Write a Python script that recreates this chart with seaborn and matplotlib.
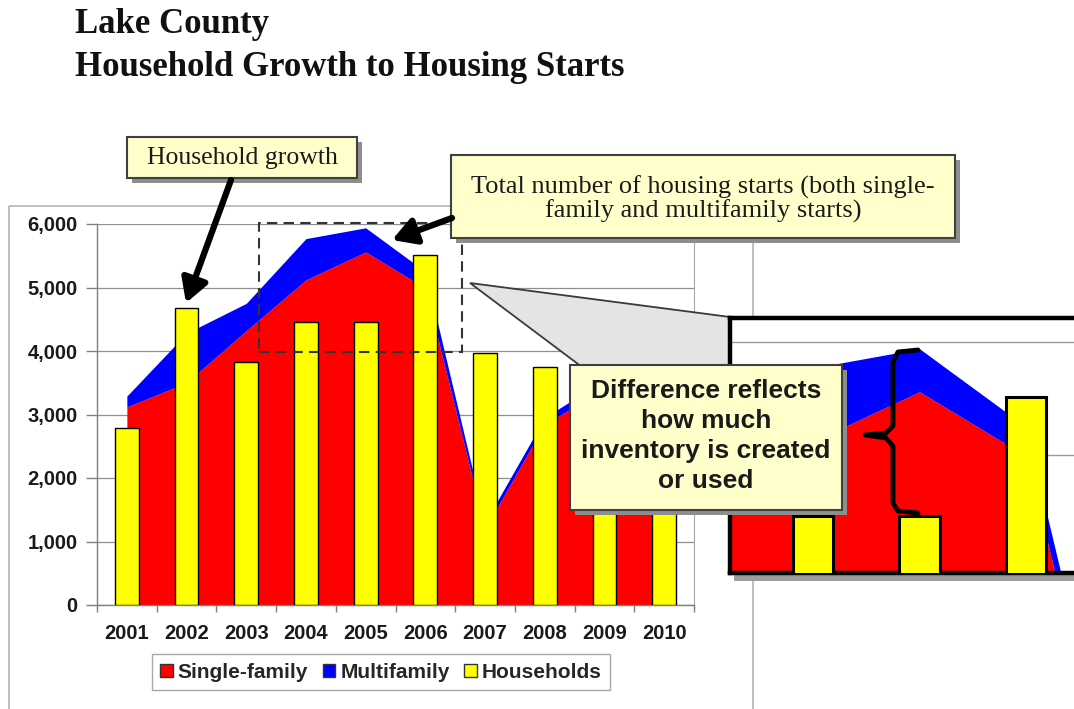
import numpy as np
import matplotlib
matplotlib.use("Agg")
import matplotlib.pyplot as plt
import seaborn as sns
from matplotlib.patches import Rectangle, Polygon, Patch
from matplotlib.path import Path
from matplotlib.patches import PathPatch

# ---- data -------------------------------------------------------------
years = ["2001", "2002", "2003", "2004", "2005", "2006", "2007", "2008", "2009", "2010"]
single_family = [3120, 3500, 4320, 5120, 5560, 4990, 1200, 2850, 3400, 2900]
multifamily = [170, 780, 430, 650, 380, 260, 100, 100, 150, 130]
households = [2790, 4680, 3830, 4460, 4460, 5510, 3970, 3750, 3300, 3400]
y_ticks = [0, 1000, 2000, 3000, 4000, 5000, 6000]

series_names = ["Single-family", "Multifamily", "Households"]
title_lines = ["Lake County", "Household Growth to Housing Starts"]
note_growth = "Household growth"
note_total = "Total number of housing starts (both single-\nfamily and multifamily starts)"
note_diff = "Difference reflects\nhow much\ninventory is created\nor used"

# ---- style ------------------------------------------------------------
sns.set_style("white")
plt.rcParams["font.family"] = ["Liberation Sans", "DejaVu Sans"]

RED, BLUE, YELLOW = "#FF0000", "#0000FF", "#FFFF00"
NOTE_FILL = "#FFFFCC"
W, H = 1074, 709

fig = plt.figure(figsize=(W / 100, H / 100), dpi=100)
fig.patch.set_facecolor("white")


def px_axes(x0, y0, x1, y1, z):
    return fig.add_axes([x0 / W, 1 - y1 / H, (x1 - x0) / W, (y1 - y0) / H], zorder=z)


def px_overlay(z):
    a = px_axes(0, 0, W, H, z)
    a.set_xlim(0, W)
    a.set_ylim(H, 0)
    a.axis("off")
    a.patch.set_alpha(0)
    return a


idx = np.arange(len(years))
sf = np.array(single_family)
total = sf + np.array(multifamily)

# ---- chart frame ------------------------------------------------------
bg = px_overlay(0)
bg.add_patch(Rectangle((9, 206), 744, 520, fill=False, ec="#b4b4b4", lw=1.2))

# ---- main chart -------------------------------------------------------
ax = px_axes(97, 224, 694, 605, 1)
ax.set_facecolor("white")
ax.fill_between(idx, 0, sf, color=RED, lw=0, zorder=2)
ax.fill_between(idx, sf, total, color=BLUE, lw=0, zorder=2)
sns.barplot(x=years, y=households, color=YELLOW, saturation=1, width=0.4,
            edgecolor="black", linewidth=1.0, ax=ax, zorder=3)
ax.set_xlim(-0.5, 9.5)
ax.set_ylim(0, 6000)
ax.set_xlabel("")
ax.set_ylabel("")
ax.set_yticks(y_ticks)
ax.set_yticklabels([f"{v:,}" for v in y_ticks])
ax.set_xticks(idx)
ax.set_xticklabels(years)
ax.set_xticks(np.arange(-0.5, 10, 1), minor=True)
ax.set_axisbelow(True)
ax.yaxis.grid(True, color="#8f8f8f", lw=0.9)
ax.xaxis.grid(False)
for s in ["left", "bottom"]:
    ax.spines[s].set_color("#7f7f7f")
    ax.spines[s].set_linewidth(1.0)
ax.spines["right"].set_color("#a8a8a8")
ax.spines["top"].set_visible(False)
ax.tick_params(axis="y", left=True, length=8, width=1, color="#7f7f7f", pad=6,
               labelsize=14.5, labelcolor="#1a1a1a")
ax.tick_params(axis="x", which="major", bottom=False, length=0, pad=14,
               labelsize=14.5, labelcolor="#1a1a1a")
ax.tick_params(axis="x", which="minor", bottom=True, length=5, width=1, color="#7f7f7f")
for lab in ax.get_xticklabels() + ax.get_yticklabels():
    lab.set_fontweight("bold")

# dashed region that the enlarged view shows
ax.add_patch(Rectangle((2.21, 3980), 3.40, 2040, fill=False, ec="#333333", lw=1.5,
                       ls=(0, (5, 3)), zorder=6, clip_on=False))

# legend
handles = [Patch(fc=c, ec="#333333", lw=1) for c in (RED, BLUE, YELLOW)]
fig.legend(handles, series_names, loc="center", bbox_to_anchor=(381 / W, 1 - 672 / H),
           ncol=3, frameon=True, fancybox=False, edgecolor="#a8a8a8", framealpha=1,
           prop=dict(family="Liberation Sans", weight="bold", size=15),
           handlelength=0.6, handleheight=0.6, handletextpad=0.25,
           columnspacing=0.7, borderpad=0.4)

# ---- connector + enlarged view ----------------------------------------
low = px_overlay(2)
low.add_patch(Polygon([(470, 283), (730, 317), (730, 478)], closed=True,
                      fc="#e4e4e4", ec="#3a3a3a", lw=1.3))
low.add_patch(Rectangle((734, 574), 400, 7, fc="#9c9c9c", ec="none"))

ins = px_axes(730, 318, 1092, 573, 3)
ins.set_facecolor("white")
ins.fill_between(idx, 0, sf, color=RED, lw=0, zorder=2)
ins.fill_between(idx, sf, total, color=BLUE, lw=0, zorder=2)
sns.barplot(x=years, y=households, color=YELLOW, saturation=1, width=0.38,
            edgecolor="black", linewidth=2.2, ax=ins, zorder=3)
ins.set_xlim(2.22, 5.62)
ins.set_ylim(3956, 6212)
ins.set_xlabel("")
ins.set_ylabel("")
ins.set_yticks([5000, 6000])
ins.set_xticks([])
ins.tick_params(left=False, labelleft=False, bottom=False, labelbottom=False)
ins.set_axisbelow(True)
ins.yaxis.grid(True, color="#9a9a9a", lw=1.0)
for s in ins.spines.values():
    s.set_color("black")
    s.set_linewidth(3.2)

# ---- notes and pointers -----------------------------------------------
top = px_overlay(4)


def note_box(x0, y0, x1, y1):
    top.add_patch(Rectangle((x0 + 5, y0 + 5), x1 - x0, y1 - y0, fc="#8e8e8e", ec="none"))
    top.add_patch(Rectangle((x0, y0), x1 - x0, y1 - y0, fc=NOTE_FILL, ec="#404040", lw=1.5))


note_box(127, 137, 357, 178)
top.text(242, 158, note_growth, ha="center", va="center", fontsize=18.5,
         family="Liberation Serif", color="#1a1a1a")

note_box(451, 155, 955, 238)
top.text(703, 199, note_total, ha="center", va="center", fontsize=19,
         family="Liberation Serif", color="#1a1a1a", linespacing=1.05)

note_box(570, 365, 842, 510)
top.text(706, 436, note_diff, ha="center", va="center", fontsize=19,
         fontweight="bold", color="#1a1a1a", linespacing=1.3)

arrow_kw = dict(arrowstyle="-|>,head_length=0.7,head_width=0.4", lw=4.5,
                color="black", mutation_scale=20, shrinkA=0, shrinkB=0)
top.annotate("", xy=(186, 303), xytext=(231, 180), arrowprops=arrow_kw)
top.annotate("", xy=(392, 240), xytext=(452, 218), arrowprops=arrow_kw)

# brace marking the gap between starts and household growth
brace = [(918, 350), (898, 352), (893, 362), (893, 426), (886, 433), (865, 435),
         (886, 438), (893, 446), (893, 503), (898, 511), (918, 513)]
top.add_patch(PathPatch(Path(brace), fill=False, ec="black", lw=3.5,
                        capstyle="round", joinstyle="round"))

# ---- title --------------------------------------------------------------
for text, base in zip(title_lines, (33, 76)):
    fig.text(75 / W, 1 - base / H, text, family="Liberation Serif", fontweight="bold",
             fontsize=25, va="baseline", ha="left", color="#111111")

fig.savefig("out.png", dpi=100, facecolor="white")
